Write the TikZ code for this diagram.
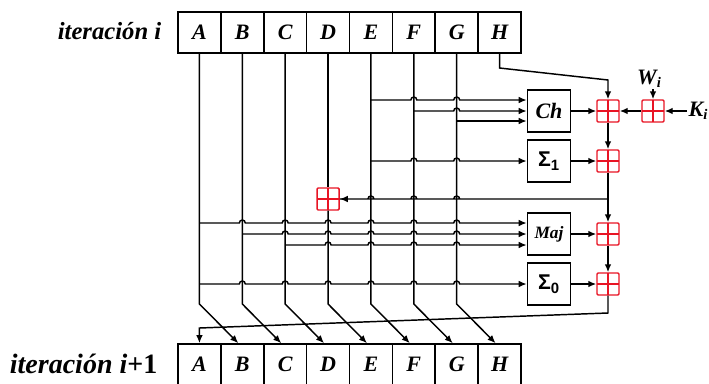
\documentclass[tikz,border=0pt]{standalone}
\usepackage{fontspec}
\setmainfont{Liberation Serif}
\newfontfamily\sigfont{Liberation Sans}
\usetikzlibrary{arrows.meta,calc}
\definecolor{addred}{RGB}{232,20,36}
\newcommand\regfont{\fontsize{16.5}{18}\selectfont\bfseries\itshape}
\tikzset{
  wire/.style={line width=1.1pt, black},
  arr/.style={wire, -{Latex[length=6pt,width=5pt]}},
  arrl/.style={wire, {Latex[length=6pt,width=5pt]}-},
  reg/.style={draw, line width=1.2pt, minimum width=32.16pt, minimum height=30.75pt,
    inner sep=0pt, font=\regfont},
  fbox/.style={draw, line width=1.2pt, minimum width=32.25pt, minimum height=31.5pt, inner sep=0pt},
  adder/.style={draw=addred, line width=1.1pt, minimum size=16.5pt, inner sep=0pt,
    rounded corners=0.8pt,
    path picture={\draw[addred, line width=1.1pt]
      (path picture bounding box.north) -- (path picture bounding box.south)
      (path picture bounding box.west) -- (path picture bounding box.east);}},
}
% horizontal wire that hops over the register columns listed in #3
\newcommand\hoppath[5]{\draw[#1] (#2) \foreach \col in {#3}{
    -- ($(t\col.south |- #4)+(-3,0)$) arc[start angle=180,end angle=360,radius=3]} -- (#5);}

\begin{document}
\begin{tikzpicture}[x=0.75pt,y=-0.75pt]
\useasboundingbox (0,0) rectangle (709,383);

% registers
\foreach \l [count=\i] in {A,B,C,D,E,F,G,H}{
  \node[reg] (t\i) at ({178+42.875*(\i-0.5)},32.5) {\l};
  \node[reg] (b\i) at ({178+42.875*(\i-0.5)},364.5) {\l};
}
\node[anchor=base east, font=\fontsize{18.5}{20}\selectfont\bfseries\itshape] (itop) at (166,39) {iteración i};
\node[anchor=base east, font=\fontsize{21}{24}\selectfont\bfseries\itshape] (ibot) at (162,373) {iteración i\textup{+1}};

% function blocks
\node[fbox] (ch) at (549,111) {\regfont Ch};
\node[fbox] (s1) at (549,161) {\sigfont\fontsize{16}{18}\selectfont\bfseries Σ\textsubscript{1}};
\node[fbox] (maj) at (549,234) {\fontsize{13}{14}\selectfont\bfseries\itshape Maj};
\node[fbox] (s0) at (549,284) {\sigfont\fontsize{16}{18}\selectfont\bfseries Σ\textsubscript{0}};

% modular adders
\coordinate (ty) at (0,199);
\node[adder] (ad1) at (608,111) {};
\node[adder] (adw) at (653,111) {};
\node[adder] (ad2) at (608,161) {};
\node[adder] (ad3) at (t4 |- ty) {};
\node[adder] (ad4) at (608,234) {};
\node[adder] (ad5) at (608,284) {};

% constants
\node[font=\regfont, inner sep=1pt] (wi) at (649,79) {W\raisebox{-0.3ex}{\fontsize{11}{12}\selectfont i}};
\node[font=\regfont, anchor=west, inner sep=1pt] (ki) at (687,111) {K\raisebox{-0.3ex}{\fontsize{11}{12}\selectfont i}};
\draw[arr] (adw |- wi.south) -- (adw);
\draw[arr] (ki) -- (adw);
\draw[arr] (adw) -- (ad1);

% H feeds the first adder
\coordinate (hk1) at (t8.south |- 0,68);
\coordinate (hk2) at (ad1 |- 0,80);
\draw[arr] (t8.south) -- (hk1) -- (hk2) -- (ad1);

% shift of the registers
\coordinate (bend) at (0,304);
\foreach \i/\j in {1/2,2/3,3/4,5/6,6/7,7/8}{
  \draw[arr] (t\i.south) -- (t\i.south |- bend) -- ($(b\j.north)+(-4,0)$);
}
\draw[wire] (t4.south) -- (ad3);
\draw[arr] (ad3) -- (ad3 |- bend) -- ($(b5.north)+(-4,0)$);

% inputs of Ch and Sigma1
\coordinate (ch1) at ($(ch.west)+(0,-11)$);
\coordinate (ch2) at (ch.west);
\coordinate (ch3) at ($(ch.west)+(0,10)$);
\hoppath{arr}{t5.south |- ch1}{6,7}{ch1}{ch1}
\hoppath{arr}{t6.south |- ch2}{7}{ch2}{ch2}
\draw[arr] (t7.south |- ch3) -- (ch3);
\hoppath{arr}{t5.south |- s1.west}{6,7}{s1.west}{s1.west}

% inputs of Maj and Sigma0
\coordinate (mj1) at ($(maj.west)+(0,-11)$);
\coordinate (mj2) at (maj.west);
\coordinate (mj3) at ($(maj.west)+(0,11)$);
\hoppath{arr}{t1.south |- mj1}{2,3,4,5,6,7}{mj1}{mj1}
\hoppath{arr}{t2.south |- mj2}{3,4,5,6,7}{mj2}{mj2}
\hoppath{arr}{t3.south |- mj3}{4,5,6,7}{mj3}{mj3}
\hoppath{arr}{t1.south |- s0.west}{2,3,4,5,6,7}{s0.west}{s0.west}

% adder chain
\draw[arr] (ch) -- (ad1);
\draw[arr] (s1) -- (ad2);
\draw[arr] (maj) -- (ad4);
\draw[arr] (s0) -- (ad5);
\draw[arr] (ad1) -- (ad2);
\coordinate (t1p) at (ad2 |- ty);
\draw[arr] (ad2) -- (ad4);
\hoppath{arrl}{ad3}{5,6,7}{ty}{t1p}
\draw[arr] (ad4) -- (ad5);

% new value of A
\coordinate (o1) at (ad5 |- 0,313);
\coordinate (o2) at (b1.north |- 0,328);
\draw[arr] (ad5) -- (o1) -- (o2) -- (b1.north);
\end{tikzpicture}
\end{document}
